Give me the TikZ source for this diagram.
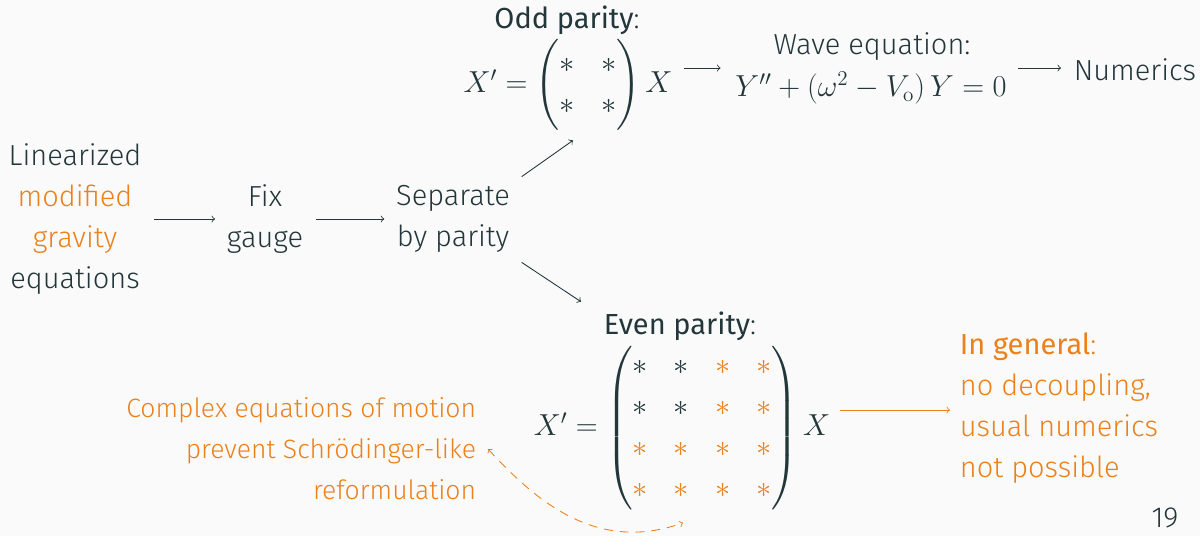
\documentclass[tikz,border=0pt]{standalone}
\usepackage[no-math]{fontspec}
\setmainfont{Fira Sans Light}[BoldFont={Fira Sans}]
\usepackage{amsmath}
\definecolor{mDarkTeal}{HTML}{23373B}
\definecolor{mOrange}{HTML}{EB811B}
\definecolor{mBg}{HTML}{FAFAFA}
\setlength{\arraycolsep}{7.4pt}
\newcommand{\ost}{\textcolor{mOrange}{*}}
\begin{document}
\begin{tikzpicture}[
    x=0.02cm, y=-0.02cm,
    txt/.style={font=\fontsize{16.5}{23.3}\selectfont, text=mDarkTeal, align=center, inner sep=2pt},
    alerttxt/.style={txt, text=mOrange},
    arr/.style={->, >=to, draw=mDarkTeal, line width=0.5pt},
    alertarr/.style={arr, draw=mOrange},
    dasharr/.style={<->, >=to, draw=mOrange, dash pattern=on 5pt off 4pt, line width=0.5pt},
]
\fill[mBg] (0,0) rectangle (1200,536);

% chain on the left
\node[txt] (lin) at (75,219) {Linearized\\ \textcolor{mOrange}{modified}\\ \textcolor{mOrange}{gravity}\\ equations};
\node[txt] (fix) at (265,219) {Fix\\ gauge};
\node[txt] (sep) at (453,219) {Separate\\ by parity};

\draw[arr] ([shift={(9,0)}]lin.east) -- ([shift={(-8,0)}]fix.west);
\draw[arr] ([shift={(9,0)}]fix.east) -- ([shift={(-8,0)}]sep.west);

% odd branch
\node[txt] (oddt) at (567,20) {\textbf{Odd parity}:};
\node[txt] (oddeq) at (568,85) {$X' = \begin{pmatrix} * & * \\ * & * \end{pmatrix} X$};
\node[txt] (wavet) at (872,47) {Wave equation:};
\node[txt] (waveeq) at (871,88) {$Y'' + (\omega^2 - V_{\mathrm{o}})\,Y = 0$};
\node[txt] (num) at (1135,70) {Numerics};

\draw[arr] ([shift={(8,-5)}]sep.north east) -- ([shift={(5,6)}]oddeq.south);
\draw[arr] ([shift={(8,-17)}]oddeq.east) -- ([shift={(-11,-20)}]waveeq.west);
\draw[arr] ([shift={(8,-20)}]waveeq.east) -- ([shift={(-9,-2)}]num.west);

% even branch
\node[txt] (event) at (680,326) {\textbf{Even parity}:};
\node[txt] (eveneq) at (682,428) {$X' = \begin{pmatrix}
  * & * & \ost & \ost \\
  * & * & \ost & \ost \\
  \ost & \ost & \ost & \ost \\
  \ost & \ost & \ost & \ost
\end{pmatrix} X$};
\node[alerttxt, align=left, anchor=west] (gen) at (956,408) {\textbf{In general}:\\ no decoupling,\\ usual numerics\\ not possible};
\node[alerttxt, font=\fontsize{15.1}{23.3}\selectfont, align=right, anchor=east] (cplx) at (480,449) {Complex equations of motion\\ prevent Schrödinger-like\\ reformulation};

\draw[arr] ([shift={(8,6)}]sep.south east) -- ([shift={(-19,-6)}]event.north west);
\draw[alertarr] ([shift={(6,-18)}]eveneq.east) -- ([shift={(-6,2)}]gen.west);
\draw[dasharr] ([shift={(8,0)}]cplx.east) .. controls +(47,51) and +(-87,31) .. ([shift={(1,9)}]eveneq.south);

% page number
\node[txt] (page) at (1165,518) {19};
\end{tikzpicture}
\end{document}
